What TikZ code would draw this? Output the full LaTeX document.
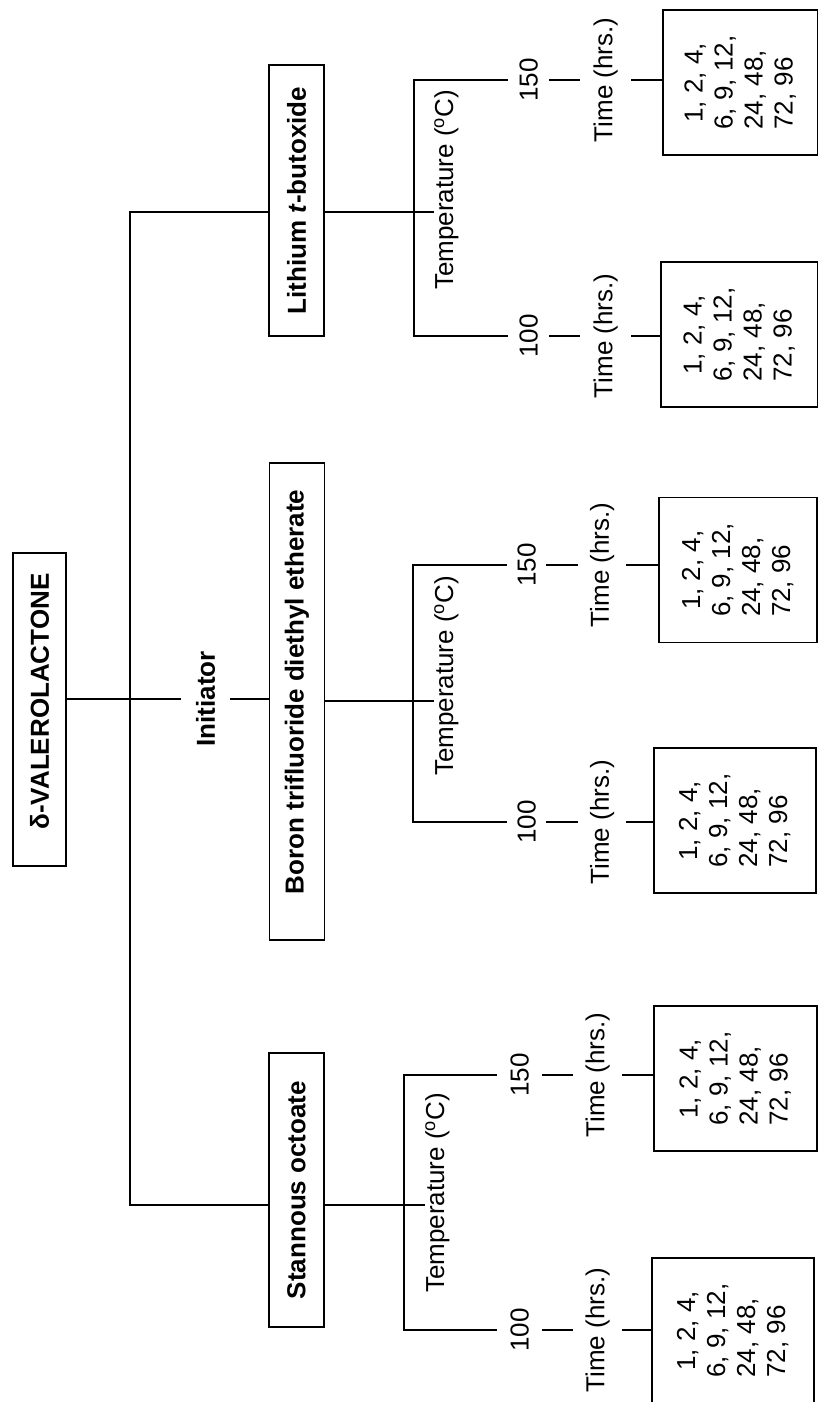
\documentclass[tikz,border=0pt]{standalone}
\usepackage{fontspec}
\setmainfont{Liberation Sans}
\begin{document}
\begin{tikzpicture}[x=1pt,y=1pt,
  every node/.style={inner sep=0pt, font=\fontsize{26}{30}\selectfont},
  vert/.style={rotate=90},
  mainbox/.style={vert, draw, line width=1.8pt, minimum height=55, font=\fontsize{26}{30}\selectfont\bfseries},
  databox/.style={vert, draw, line width=1.6pt, align=left, minimum width=145, anchor=north},
  numlab/.style={vert, anchor=north},
  timelab/.style={vert, anchor=north},
  templab/.style={vert, anchor=north},
  conn/.style={line width=1.6pt}
]
\useasboundingbox (0,0) rectangle (817,-1402);

% main boxes
\node[mainbox, minimum width=313, minimum height=53] (val) at (39.5,-709.5) {\hspace*{16pt}δ-VALEROLACTONE};
\node[mainbox, minimum width=271] (li) at (296.5,-200.5) {Lithium \textit{t}-butoxide};
\node[mainbox, minimum width=477] (bf) at (297,-701.5) {\hspace*{19pt}Boron trifluoride diethyl etherate};
\node[mainbox, minimum width=274] (sn) at (296.5,-1190) {Stannous octoate};
\node[vert, anchor=north, minimum height=49, font=\fontsize{26}{30}\selectfont\bfseries] (init) at (181,-699) {Initiator};

% trunk
\coordinate (jLi) at (130,-212);
\coordinate (jVal) at (130,-699);
\coordinate (jSn) at (130,-1205);
\draw[conn] (jLi -| li.north) -- (jLi) -- (jSn) -- (jSn -| sn.north);
\draw[conn] (jVal -| val.south) -- (jVal -| init.north);
\draw[conn] (jVal -| init.south) -- (jVal -| bf.north);

% ---------- Lithium branch ----------
\node[templab] (tLi) at (434,-190) {Temperature (\smash{\textsuperscript{o}}C)};
\node[numlab, minimum height=41] (aLi) at (508,-80) {150};
\node[numlab, minimum height=41] (bLi) at (508,-336) {100};
\coordinate (kLi) at (414,-212);
\draw[conn] (jLi -| li.south) -- (jLi -| tLi.north);
\draw[conn] (aLi.north) -| (kLi) |- (bLi.north);
\node[timelab, minimum height=51] (taLi) at (580,-80) {Time (hrs.)};
\node[timelab, minimum height=51] (tbLi) at (580,-336) {Time (hrs.)};
\draw[conn] (aLi.south) -- (taLi.north);
\draw[conn] (bLi.south) -- (tbLi.north);
\node[databox, minimum height=155] (daLi) at (662,-82.5) {\hspace*{7pt}1, 2, 4,\\6, 9, 12,\\24, 48,\\72, 96};
\node[databox, minimum height=157] (dbLi) at (660,-334.5) {\hspace*{7pt}1, 2, 4,\\6, 9, 12,\\24, 48,\\72, 96};
\draw[conn] (taLi.south) -- (taLi.south -| daLi.north);
\draw[conn] (tbLi.south) -- (tbLi.south -| dbLi.north);

% ---------- Boron branch ----------
\node[templab] (tB) at (434,-676) {Temperature (\smash{\textsuperscript{o}}C)};
\node[numlab, minimum height=39] (aB) at (507,-565) {150};
\node[numlab, minimum height=39] (bB) at (507,-822) {100};
\coordinate (jB) at (413,-701);
\draw[conn] (jB -| bf.south) -- (jB -| tB.north);
\draw[conn] (aB.north) -| (jB) |- (bB.north);
\node[timelab, minimum height=48] (taB) at (578,-565) {Time (hrs.)};
\node[timelab, minimum height=48] (tbB) at (578,-822) {Time (hrs.)};
\draw[conn] (aB.south) -- (taB.north);
\draw[conn] (bB.south) -- (tbB.north);
\node[databox, minimum height=158] (daB) at (658,-570) {\hspace*{7pt}1, 2, 4,\\6, 9, 12,\\24, 48,\\72, 96};
\node[databox, minimum height=162] (dbB) at (653,-820.5) {\hspace*{7pt}1, 2, 4,\\6, 9, 12,\\24, 48,\\72, 96};
\draw[conn] (taB.south) -- (taB.south -| daB.north);
\draw[conn] (tbB.south) -- (tbB.south -| dbB.north);

% ---------- Stannous branch ----------
\node[templab] (tSn) at (425,-1193) {Temperature (\smash{\textsuperscript{o}}C)};
\node[numlab, minimum height=45] (aSn) at (497,-1075) {150};
\node[numlab, minimum height=45] (bSn) at (497,-1330) {100};
\coordinate (kSn) at (404,-1205);
\draw[conn] (jSn -| sn.south) -- (jSn -| tSn.north);
\draw[conn] (aSn.north) -| (kSn) |- (bSn.north);
\node[timelab, minimum height=49] (taSn) at (573,-1075) {Time (hrs.)};
\node[timelab, minimum height=49] (tbSn) at (573,-1330) {Time (hrs.)};
\draw[conn] (aSn.south) -- (taSn.north);
\draw[conn] (bSn.south) -- (tbSn.north);
\node[databox, minimum height=163] (daSn) at (653,-1078.5) {\hspace*{7pt}1, 2, 4,\\6, 9, 12,\\24, 48,\\72, 96};
\node[databox, minimum height=162] (dbSn) at (651,-1330.5) {\hspace*{7pt}1, 2, 4,\\6, 9, 12,\\24, 48,\\72, 96};
\draw[conn] (taSn.south) -- (taSn.south -| daSn.north);
\draw[conn] (tbSn.south) -- (tbSn.south -| dbSn.north);
\end{tikzpicture}
\end{document}
